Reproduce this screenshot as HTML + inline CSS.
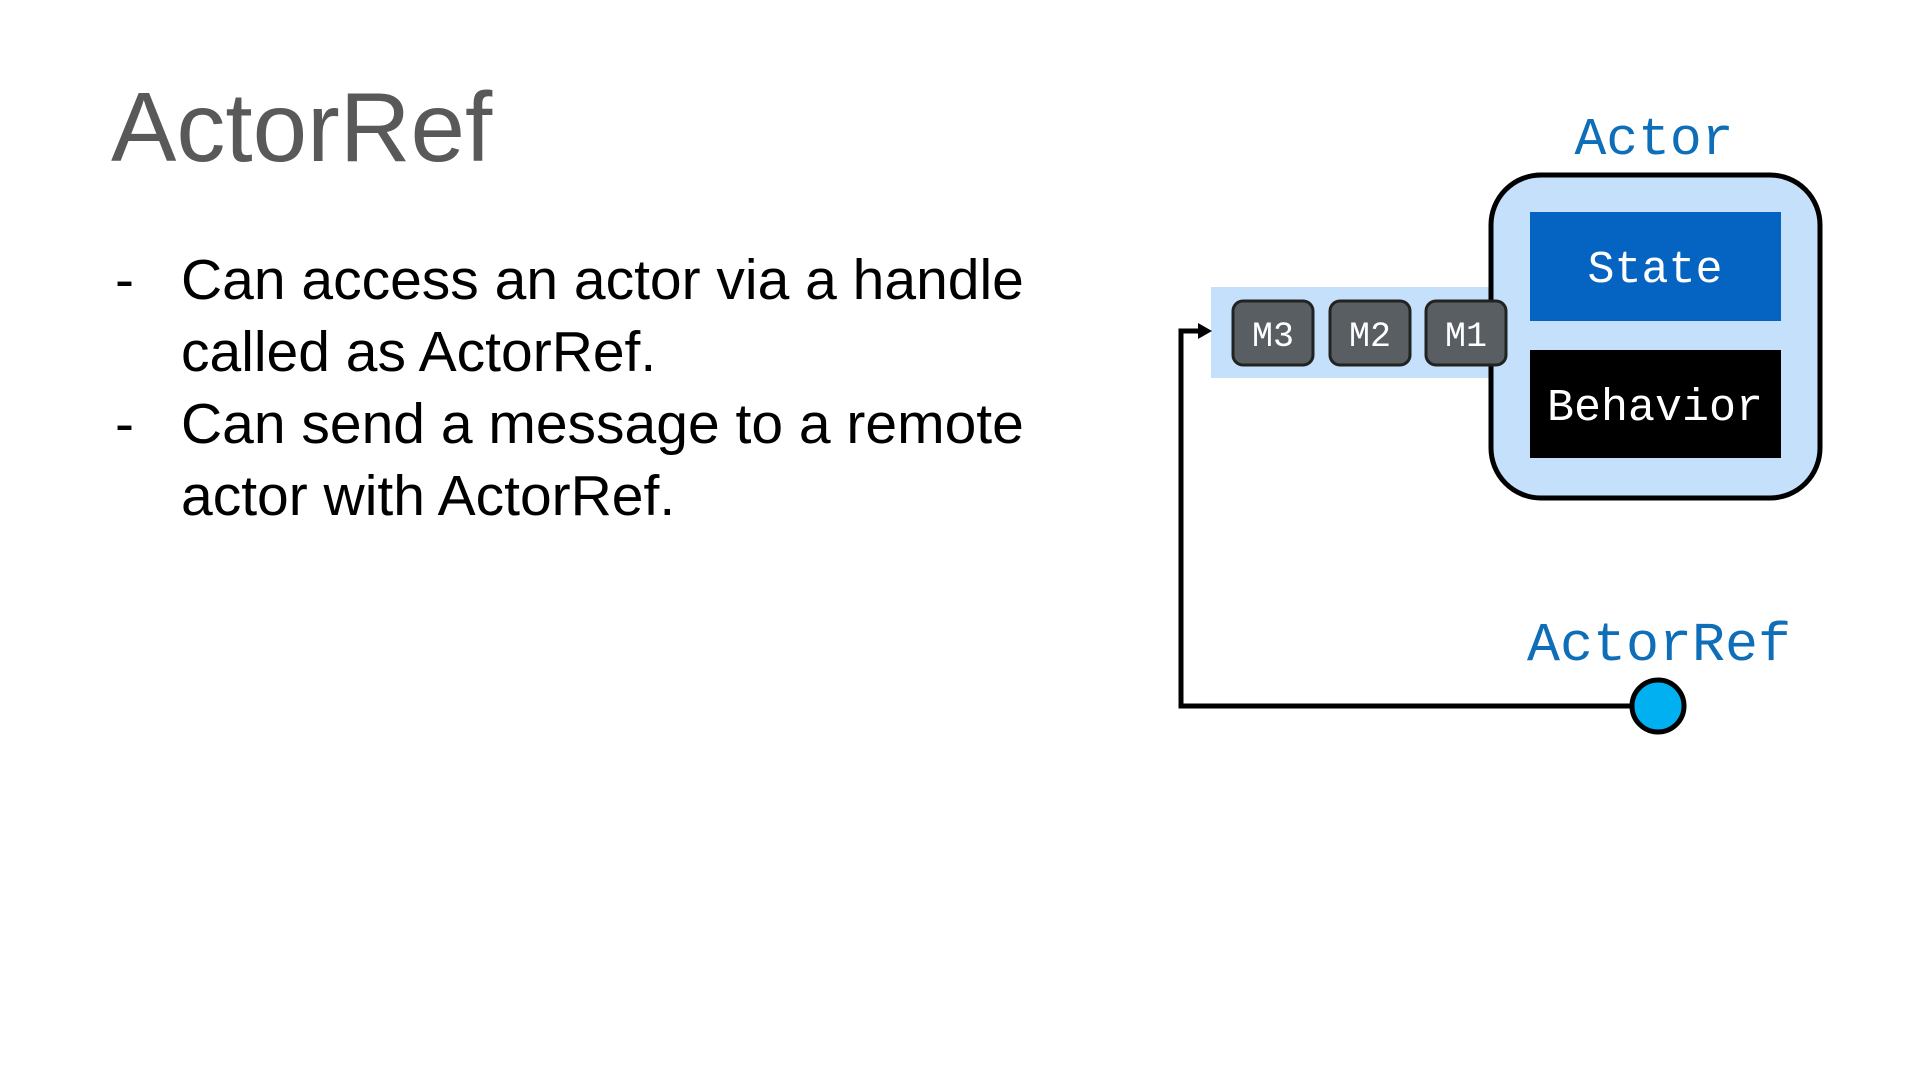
<!DOCTYPE html>
<html><head><meta charset="utf-8"><style>
html,body{margin:0;padding:0;background:#fff;}
body{width:1920px;height:1080px;position:relative;overflow:hidden;font-family:"Liberation Sans",sans-serif;}
.t{position:absolute;white-space:nowrap;}
</style></head><body>
<div class="t" style="left:111px;top:78px;font-size:98px;color:#595959;line-height:1;">ActorRef</div>
<div class="t" style="left:0;top:0;font-size:57px;color:#000;line-height:1;">
<div class="t" style="left:115px;top:252px;">-</div>
<div class="t" style="left:181px;top:252px;">Can access an actor via a handle</div>
<div class="t" style="left:181px;top:324px;">called as ActorRef.</div>
<div class="t" style="left:115px;top:396px;">-</div>
<div class="t" style="left:181px;top:396px;">Can send a message to a remote</div>
<div class="t" style="left:181px;top:468px;">actor with ActorRef.</div>
</div>
<svg width="1920" height="1080" style="position:absolute;left:0;top:0" xmlns="http://www.w3.org/2000/svg">
<g font-family="Liberation Mono, DejaVu Sans Mono, monospace" text-anchor="middle">
<text x="1654" y="154" font-size="53" fill="#0e6eb8">Actor</text>
<text x="1659" y="660" font-size="55" fill="#0e6eb8">ActorRef</text>
<rect x="1211" y="287" width="285" height="91" fill="#c5e0fa"/>
<rect x="1491" y="175" width="329" height="323" rx="50" fill="#c5e0fa" stroke="#000" stroke-width="5"/>
<rect x="1530" y="212" width="251" height="109" fill="#0563c1"/>
<text x="1655" y="282" font-size="45" fill="#fff">State</text>
<rect x="1530" y="350" width="251" height="108" fill="#000"/>
<text x="1655" y="420" font-size="45" fill="#fff">Behavior</text>
<rect x="1233" y="301" width="80" height="64" rx="10" fill="#595e63" stroke="#222" stroke-width="3"/>
<rect x="1330" y="301" width="80" height="64" rx="10" fill="#595e63" stroke="#222" stroke-width="3"/>
<rect x="1426" y="301" width="80" height="64" rx="10" fill="#595e63" stroke="#222" stroke-width="3"/>
<text x="1273" y="346" font-size="35" fill="#fff">M3</text>
<text x="1370" y="346" font-size="35" fill="#fff">M2</text>
<text x="1466" y="346" font-size="35" fill="#fff">M1</text>
</g>
<polyline points="1632,706 1181,706 1181,331 1200,331" fill="none" stroke="#000" stroke-width="5"/>
<polygon points="1212,331 1198,323 1198,339" fill="#000"/>
<circle cx="1658" cy="706" r="26" fill="#00b0f0" stroke="#000" stroke-width="5"/>
</svg>
</body></html>
